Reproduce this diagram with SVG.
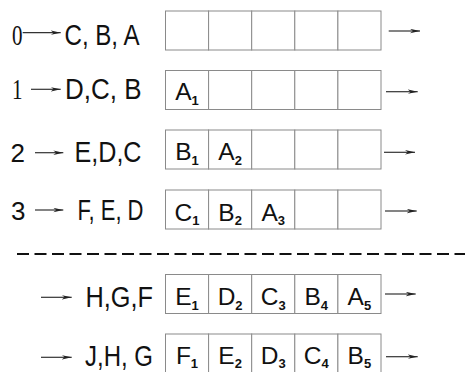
<svg xmlns="http://www.w3.org/2000/svg" width="465" height="372" viewBox="0 0 465 372">
<style>
.lbl{font-family:"Liberation Sans",Arial,sans-serif;font-size:29px;fill:#111}
.num{font-family:"Liberation Serif","Times New Roman",serif;font-size:30px;fill:#111}
.nums{font-family:"Liberation Sans",Arial,sans-serif;font-size:26px;fill:#111}
.cell{fill:#fff;stroke:#8a8a8a;stroke-width:1}
.ct{font-family:"Liberation Sans",Arial,sans-serif;font-size:24.5px;fill:#111;text-anchor:middle}
.sub{font-size:13px;font-weight:bold}
.arr{stroke:#333;stroke-width:1.2;fill:none;marker-end:url(#ah)}
.dash{stroke:#111;stroke-width:2;stroke-dasharray:12 5.5;fill:none}
</style>
<defs>
<marker id="ah" markerUnits="userSpaceOnUse" markerWidth="12" markerHeight="6" refX="10" refY="2.5" orient="auto">
<path d="M0,0.3 L10,2.5 L0,4.7 L3,2.5 z" fill="#222"/>
</marker>
<g id="row">
<rect class="cell" x="165.5" y="0" width="43.1" height="39"/>
<rect class="cell" x="208.6" y="0" width="43.1" height="39"/>
<rect class="cell" x="251.7" y="0" width="43.1" height="39"/>
<rect class="cell" x="294.8" y="0" width="43.1" height="39"/>
<rect class="cell" x="337.9" y="0" width="43.1" height="39"/>
</g>
</defs>

<g id="connectors">
<line class="arr" x1="22.7" y1="32.7" x2="60.7" y2="32.7"/>
<line class="arr" x1="31" y1="89.3" x2="60.7" y2="89.3"/>
<line class="arr" x1="35" y1="152.7" x2="63.3" y2="152.7"/>
<line class="arr" x1="35" y1="210" x2="63.3" y2="210"/>
<line class="arr" x1="41" y1="297.3" x2="71.7" y2="297.3"/>
<line class="arr" x1="41" y1="357.3" x2="71.7" y2="357.3"/>
<line class="arr" x1="388.7" y1="31" x2="420" y2="31"/>
<line class="arr" x1="386" y1="91.7" x2="417.7" y2="91.7"/>
<line class="arr" x1="384" y1="152.3" x2="415" y2="152.3"/>
<line class="arr" x1="385" y1="211" x2="416.7" y2="211"/>
<line class="arr" x1="385" y1="294" x2="415.7" y2="294"/>
<line class="arr" x1="386" y1="356.7" x2="417.7" y2="356.7"/>
<line class="dash" x1="17" y1="254" x2="465" y2="254"/>
</g>

<g id="row0">
<text class="num" x="12" y="45" textLength="10.5" lengthAdjust="spacingAndGlyphs">0</text>
<text class="lbl" x="64.5" y="45" textLength="75" lengthAdjust="spacingAndGlyphs">C, B, A</text>
<use href="#row" y="11"/>
</g>

<g id="row1">
<text class="num" x="12" y="99" textLength="10.5" lengthAdjust="spacingAndGlyphs">1</text>
<text class="lbl" x="65" y="99" textLength="76.5" lengthAdjust="spacingAndGlyphs">D,C, B</text>
<use href="#row" y="70.5"/>
<text class="ct" x="187" y="100">A<tspan class="sub" dy="4.5">1</tspan></text>
</g>

<g id="row2">
<text class="nums" x="10.5" y="162">2</text>
<text class="lbl" x="74.5" y="162" textLength="67" lengthAdjust="spacingAndGlyphs">E,D,C</text>
<use href="#row" y="130"/>
<text class="ct" x="187" y="160">B<tspan class="sub" dy="4.5">1</tspan></text>
<text class="ct" x="230.1" y="160">A<tspan class="sub" dy="4.5">2</tspan></text>
</g>

<g id="row3">
<text class="nums" x="11" y="220">3</text>
<text class="lbl" x="77.5" y="220" textLength="66" lengthAdjust="spacingAndGlyphs">F, E, D</text>
<use href="#row" y="190"/>
<text class="ct" x="187" y="220.5">C<tspan class="sub" dy="4.5">1</tspan></text>
<text class="ct" x="230.1" y="220.5">B<tspan class="sub" dy="4.5">2</tspan></text>
<text class="ct" x="273.2" y="220.5">A<tspan class="sub" dy="4.5">3</tspan></text>
</g>

<g id="row5">
<text class="lbl" x="85.5" y="306.7" textLength="67.5" lengthAdjust="spacingAndGlyphs">H,G,F</text>
<use href="#row" y="274.5"/>
<text class="ct" x="187" y="305">E<tspan class="sub" dy="4.5">1</tspan></text>
<text class="ct" x="230.1" y="305">D<tspan class="sub" dy="4.5">2</tspan></text>
<text class="ct" x="273.2" y="305">C<tspan class="sub" dy="4.5">3</tspan></text>
<text class="ct" x="316.3" y="305">B<tspan class="sub" dy="4.5">4</tspan></text>
<text class="ct" x="359.4" y="305">A<tspan class="sub" dy="4.5">5</tspan></text>
</g>

<g id="row6">
<text class="lbl" x="85" y="366" textLength="68" lengthAdjust="spacingAndGlyphs">J,H, G</text>
<use href="#row" y="334"/>
<text class="ct" x="187" y="364">F<tspan class="sub" dy="4">1</tspan></text>
<text class="ct" x="230.1" y="364">E<tspan class="sub" dy="4">2</tspan></text>
<text class="ct" x="273.2" y="364">D<tspan class="sub" dy="4">3</tspan></text>
<text class="ct" x="316.3" y="364">C<tspan class="sub" dy="4">4</tspan></text>
<text class="ct" x="359.4" y="364">B<tspan class="sub" dy="4">5</tspan></text>
</g>
</svg>
